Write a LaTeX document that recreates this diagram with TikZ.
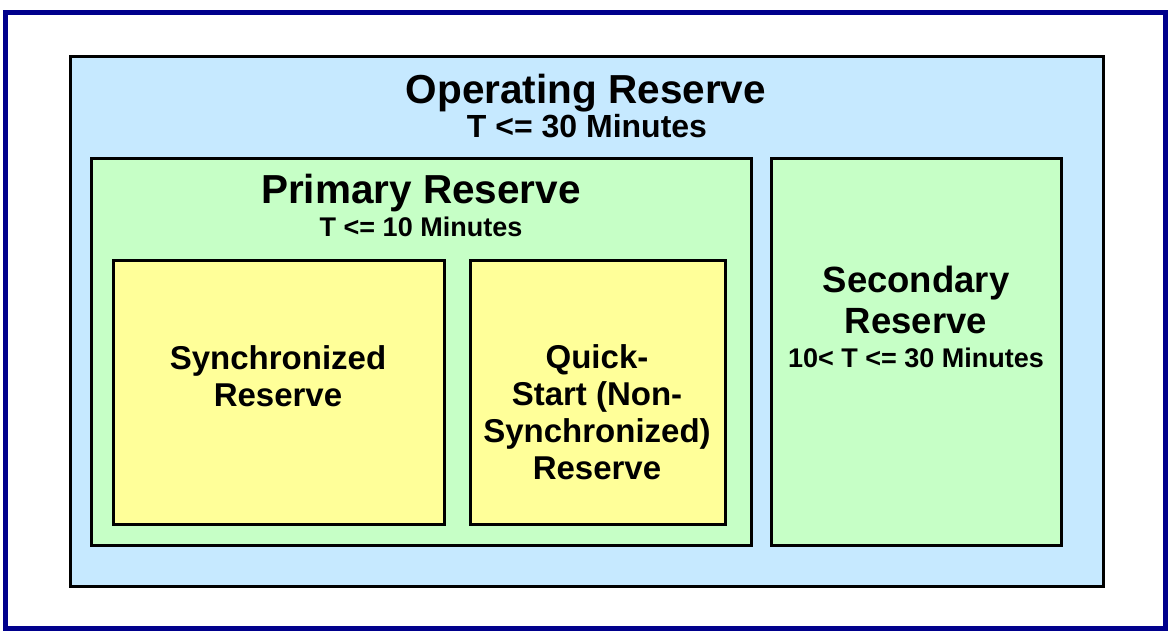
\documentclass[tikz,border=0pt]{standalone}
\usepackage{fontspec}
\setmainfont{Liberation Sans}
\definecolor{frameblue}{RGB}{0,0,140}
\definecolor{opblue}{RGB}{198,233,255}
\definecolor{resgreen}{RGB}{198,255,198}
\definecolor{resyellow}{RGB}{255,255,153}
\tikzset{
  boxshape/.style={draw=black, line width=3pt, inner sep=0pt, outer sep=0pt},
  big/.style={font=\bfseries\fontsize{40.5}{44}\selectfont, inner sep=0pt, anchor=base},
  mid/.style={font=\bfseries\fontsize{32}{37}\selectfont, inner sep=0pt, anchor=base},
  small/.style={font=\bfseries\fontsize{27}{31}\selectfont, inner sep=0pt, anchor=base},
  inner/.style={font=\bfseries\fontsize{33}{37}\selectfont, inner sep=0pt, align=center, anchor=north},
  sectitle/.style={font=\bfseries\fontsize{36.5}{41}\selectfont, inner sep=0pt, align=center, anchor=north},
}
\begin{document}
\begin{tikzpicture}[x=1pt,y=-1pt]
\useasboundingbox (0,0) rectangle (1170,634);
\fill[white] (0,0) rectangle (1170,634);
\node[draw=frameblue, line width=5pt, minimum width=1160pt, minimum height=615pt, inner sep=0pt] (frame) at (585,320.5) {};
\node[boxshape, fill=opblue, minimum width=1033pt, minimum height=530pt] (op) at (586.5,321.5) {};
\node[boxshape, fill=resgreen, minimum width=660pt, minimum height=387pt] (prim) at (421,351.5) {};
\node[boxshape, fill=resgreen, minimum width=290pt, minimum height=387pt] (sec) at (916,351.5) {};
\node[boxshape, fill=resyellow, minimum width=331pt, minimum height=264pt] (sync) at (278.5,392) {};
\node[boxshape, fill=resyellow, minimum width=255pt, minimum height=264pt] (quick) at (597.5,392) {};
\node[big] (optitle) at (586,103) {Operating Reserve};
\node[mid] (optime) at (587,137) {T <= 30 Minutes};
\node[big] (primtitle) at (421,203) {Primary Reserve};
\node[small] (primtime) at (421,236) {T <= 10 Minutes};
\node[inner] (synctext) at (278,345) {Synchronized\\Reserve};
\node[inner] (quicktext) at (597,344) {Quick-\\Start (Non-\\Synchronized)\\Reserve};
\node[sectitle] (sectext) at (916,266) {Secondary\\Reserve};
\node[small] (sectime) at (916,367) {10< T <= 30 Minutes};
\end{tikzpicture}
\end{document}
